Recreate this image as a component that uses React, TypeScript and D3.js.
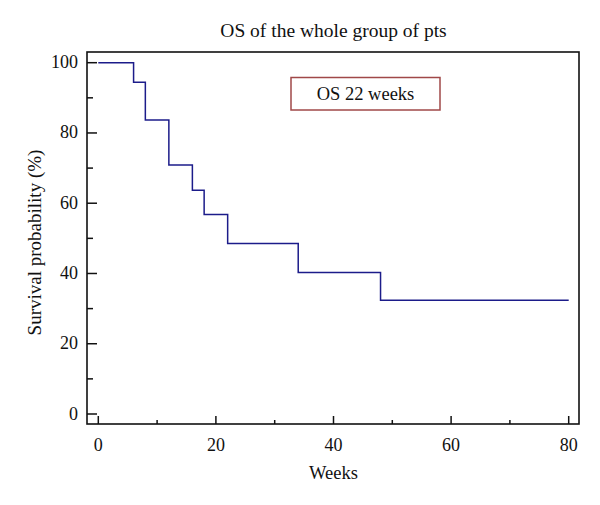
import React from "react";
import * as d3 from "d3";

// survival steps: week where the step starts, % at that level
const stepWeeks = [0, 6, 8, 12, 16, 18, 22, 34, 48];
const survival = [100, 94.4, 83.7, 70.9, 63.7, 56.8, 48.5, 40.3, 32.4];
const lastWeek = 80;

const xTicks = [0, 20, 40, 60, 80];
const xMinor = [10, 30, 50, 70];
const yTicks = [0, 20, 40, 60, 80, 100];
const yMinor = [10, 30, 50, 70, 90];

const title = "OS of the whole group of pts";
const legendText = "OS 22 weeks";

const W = 600;
const H = 505;
const frame = { left: 87, right: 579, top: 52, bottom: 424 };
const FONT = "'Liberation Serif', 'DejaVu Serif', serif";

export default function App() {
  const x = d3.scaleLinear().domain([0, 80]).range([98.3, 568.7]);
  const y = d3.scaleLinear().domain([0, 100]).range([414, 62.7]);

  const pts: [number, number][] = stepWeeks.map((w, i) => [w, survival[i]]);
  pts.push([lastWeek, survival[survival.length - 1]]);
  const line = d3
    .line<[number, number]>()
    .x((d) => x(d[0]))
    .y((d) => y(d[1]))
    .curve(d3.curveStepAfter);

  return (
    <svg
      width={W}
      height={H}
      style={{ position: "absolute", left: 0, top: 0, background: "#fff" }}
      fontFamily={FONT}
    >
      <text x={333.5} y={37} textAnchor="middle" fontSize={19.5} fill="#111">
        {title}
      </text>

      {/* frame */}
      <rect
        x={frame.left}
        y={frame.top}
        width={frame.right - frame.left}
        height={frame.bottom - frame.top}
        fill="none"
        stroke="#111"
        strokeWidth={1.6}
      />

      {/* y ticks */}
      {yTicks.map((t) => (
        <g key={"y" + t}>
          <line x1={frame.left} x2={frame.left + 10} y1={y(t)} y2={y(t)} stroke="#111" strokeWidth={1.5} />
          <text x={78} y={y(t) + 5.5} textAnchor="end" fontSize={18} fill="#111">
            {t}
          </text>
        </g>
      ))}
      {yMinor.map((t) => (
        <line key={"ym" + t} x1={frame.left} x2={frame.left + 6} y1={y(t)} y2={y(t)} stroke="#111" strokeWidth={1.5} />
      ))}

      {/* x ticks */}
      {xTicks.map((t) => (
        <g key={"x" + t}>
          <line x1={x(t)} x2={x(t)} y1={frame.bottom} y2={frame.bottom - 8} stroke="#111" strokeWidth={1.5} />
          <text x={x(t)} y={451} textAnchor="middle" fontSize={18} fill="#111">
            {t}
          </text>
        </g>
      ))}
      {xMinor.map((t) => (
        <line key={"xm" + t} x1={x(t)} x2={x(t)} y1={frame.bottom} y2={frame.bottom - 4} stroke="#111" strokeWidth={1.5} />
      ))}

      <text x={333.5} y={478.5} textAnchor="middle" fontSize={18.5} fill="#111">
        Weeks
      </text>
      <text
        transform={`translate(41,242.5) rotate(-90)`}
        textAnchor="middle"
        fontSize={19}
        fill="#111"
      >
        Survival probability (%)
      </text>

      <path d={line(pts) ?? ""} fill="none" stroke="#1c1c8a" strokeWidth={1.5} />

      {/* legend */}
      <rect x={291} y={77.5} width={149} height={32.5} fill="#fff" stroke="#a04848" strokeWidth={1.5} />
      <text x={365.5} y={100} textAnchor="middle" fontSize={18.5} fill="#111">
        {legendText}
      </text>
    </svg>
  );
}
